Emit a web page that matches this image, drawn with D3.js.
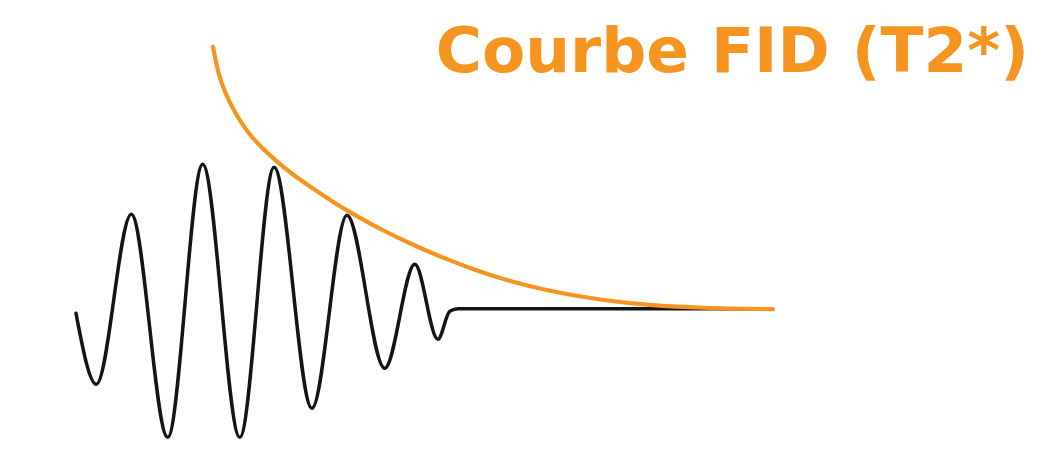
<!DOCTYPE html>
<html>
<head>
<meta charset="utf-8">
<script src="https://cdn.jsdelivr.net/npm/d3@7"></script>
<style>
  html, body { margin: 0; padding: 0; background: #fff; }
  svg { display: block; }
</style>
</head>
<body>
<svg id="chart" width="1051" height="459"></svg>
<script>
// Time (arbitrary units) and signal amplitude (arbitrary units, baseline 0)
const fidTime = [0, 2.9, 7.9, 13.1, 18.1, 23.4, 28.3, 33.7, 38.7, 44.1, 48.4, 51.7, 53.4, 54.6, 99.1];
const fidAmplitude = [-4.5, -75.5, 94.5, -128.5, 144.5, -128.5, 141.5, -99.5, 93.5, -59.5, 44.5, -30.5, -2.5, 0, 0];

const envTime = [19.57, 20.29, 21.29, 22.71, 24.57, 26.57, 28.43, 30.86, 33.71, 37.43, 38.86, 40.86, 43.86, 47.71, 51.0, 53.43, 57.0, 60.57, 67.71, 74.86, 82.0, 89.14, 99.57];
const envAmplitude = [262.1, 235.8, 215.8, 195.8, 175.8, 160.8, 148.8, 134.8, 120.8, 103.8, 97.8, 89.8, 78.3, 65.3, 55.3, 48.3, 38.8, 30.3, 17.3, 8.8, 3.5, 0.8, -0.4];

const titleText = "Courbe FID (T2*)";

const svg = d3.select("#chart");
const x = d3.scaleLinear().domain([0, 100]).range([76, 776]);
const y = d3.scaleLinear().domain([0, 300]).range([308.8, 8.8]);

const fidData = fidTime.map((t, i) => [t, fidAmplitude[i]]);
const envData = envTime.map((t, i) => [t, envAmplitude[i]]);

const fidLine = d3.line()
  .x(d => x(d[0]))
  .y(d => y(d[1]))
  .curve(d3.curveMonotoneX);

const envLine = d3.line()
  .x(d => x(d[0]))
  .y(d => y(d[1]))
  .curve(d3.curveBasis);

svg.append("path")
  .datum(fidData)
  .attr("d", fidLine)
  .attr("fill", "none")
  .attr("stroke", "#141414")
  .attr("stroke-width", 3.5)
  .attr("stroke-linecap", "round")
  .attr("stroke-linejoin", "round");

svg.append("path")
  .datum(envData)
  .attr("d", envLine)
  .attr("fill", "none")
  .attr("stroke", "#F5951F")
  .attr("stroke-width", 4.2)
  .attr("stroke-linecap", "round")
  .attr("stroke-linejoin", "round");

svg.append("text")
  .attr("x", 1029)
  .attr("y", 72)
  .attr("text-anchor", "end")
  .attr("font-family", "Verdana, 'DejaVu Sans', sans-serif")
  .attr("font-weight", "bold")
  .attr("font-size", 63)
  .attr("fill", "#F5951F")
  .text(titleText);
</script>
</body>
</html>
